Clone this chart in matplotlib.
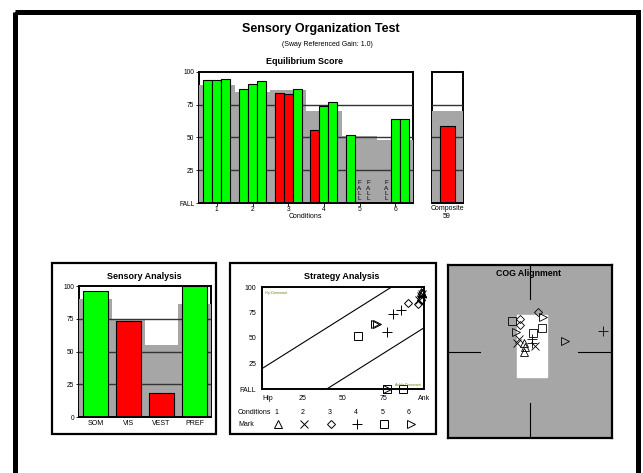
import matplotlib
matplotlib.use("Agg")
import matplotlib.pyplot as plt
from matplotlib.patches import Rectangle

plt.rcParams["font.family"] = ["Liberation Sans", "DejaVu Sans"]

W, H = 643, 473
GREEN = "#00FF00"
RED = "#FF0000"
GRAY = "#A6A6A6"
OLIVE = "#7A7A00"

# ── Equilibrium score ────────────────────────────────────────────────
conditions = [1, 2, 3, 4, 5, 6]
eq_trials = [
    [94, 94, 95],
    [87, 91, 93],
    [84, 83, 87],
    [56, 74, 77],
    [52, None, None],
    [None, 64, 64],
]
eq_normal = [90, 85, 86, 70, 51, 48]
composite = 59
composite_normal = 70

# ── Sensory analysis ─────────────────────────────────────────────────
sens_labels = ["SOM", "VIS", "VEST", "PREF"]
sens_values = [96, 73, 18, 100]
sens_normal = [90, 74, 55, 86]

# ── Strategy analysis (x = strategy score, y = equilibrium, 0 = fall) ─
strat_x = [
    [99, 99, 98],
    [97, 98, 99],
    [90, 96, 98],
    [77, 81, 86],
    [59, 77, 87],
    [77, 70, 71],
]
strat_y = [
    [94, 94, 95],
    [87, 91, 93],
    [84, 83, 87],
    [56, 74, 77],
    [52, 0, 0],
    [0, 64, 64],
]
cond_markers = ["^", "x", "D", "+", "s", ">"]
cond_msize = [6, 6, 4.5, 7, 6, 6]

# ── COG alignment ────────────────────────────────────────────────────
cog_x = [
    [-0.7, -0.7, -0.6],
    [-1.6, -1.3, 0.6],
    [1.0, -1.2, -1.2],
    [0.2, 8.9, 0.3],
    [-2.2, 1.5, 0.4],
    [1.6, -1.7, 4.3],
]
cog_y = [
    [1.0, -0.1, 0.5],
    [1.0, 1.4, 0.6],
    [4.6, 3.7, 3.1],
    [1.4, 2.4, 1.0],
    [3.5, 2.7, 2.1],
    [4.0, 2.2, 1.2],
]
cog_box = (-1.6, -2.9, 3.7, 7.1)  # x, y, width, height of the white zone

fig = plt.figure(figsize=(W / 100, H / 100), dpi=100)
fig.patch.set_facecolor("white")


def px_axes(x0, y0, x1, y1):
    return fig.add_axes([x0 / W, 1 - y1 / H, (x1 - x0) / W, (y1 - y0) / H])


def score_color(v, n):
    return RED if v < n else GREEN


# overlay in pixel coordinates for frames and free text
ov = fig.add_axes([0, 0, 1, 1])
ov.set_xlim(0, W)
ov.set_ylim(H, 0)
ov.axis("off")
ov.add_patch(Rectangle((14.5, 12.5), 623, 462, fill=False, lw=3.6, ec="black"))
for x0, y0, x1, y1 in [(52, 263, 216, 434), (230, 263, 436, 434)]:
    ov.add_patch(Rectangle((x0, y0), x1 - x0, y1 - y0, fill=False, lw=1.6, ec="black"))

ov.text(321, 29, "Sensory Organization Test", ha="center", va="center",
        fontsize=9, fontweight="bold")
ov.text(327, 44, "(Sway Referenced Gain: 1.0)", ha="center", va="center", fontsize=5)
ov.text(305, 62, "Equilibrium Score", ha="center", va="center",
        fontsize=6.5, fontweight="bold")
ov.text(305, 216, "Conditions", ha="center", va="center", fontsize=5)
ov.text(447, 208, "Composite", ha="center", va="center", fontsize=5)
ov.text(447, 216, str(composite), ha="center", va="center", fontsize=5)
ov.text(144, 276, "Sensory Analysis", ha="center", va="center",
        fontsize=6.5, fontweight="bold")
ov.text(342, 276, "Strategy Analysis", ha="center", va="center",
        fontsize=6.5, fontweight="bold")


def style_axes(ax):
    for s in ax.spines.values():
        s.set_linewidth(1.4)
        s.set_zorder(0)
    ax.tick_params(length=2, width=0.6, labelsize=4.8, pad=1.2)


# ── Equilibrium chart ────────────────────────────────────────────────
ax = px_axes(199, 72, 413, 203)
ax.bar(conditions, eq_normal, width=1.0, color=GRAY, zorder=1)
for lvl in (25, 50, 75):
    ax.axhline(lvl, color="#333333", lw=1.0, zorder=2)
ax.axhline(0, color="black", lw=1.4, zorder=5)
for c, trials, n in zip(conditions, eq_trials, eq_normal):
    for t, v in enumerate(trials):
        xp = c + (t - 1) * 0.25
        if v is None:
            ax.text(xp, 1.5, "F\nA\nL\nL", ha="center", va="bottom",
                    fontsize=4.6, linespacing=1.05, zorder=4)
        else:
            ax.bar(xp, v, width=0.25, color=score_color(v, n),
                   edgecolor="black", lw=0.8, zorder=3)
ax.set_xlim(0.5, 6.5)
ax.set_ylim(0, 100)
ax.set_xticks(conditions)
ax.set_yticks([0, 25, 50, 75, 100], ["FALL", "25", "50", "75", "100"])
style_axes(ax)
ax.tick_params(axis="x", pad=0.5)

# composite
axc = px_axes(432, 72, 463, 203)
axc.bar(0.5, composite_normal, width=1.0, color=GRAY, zorder=1)
for lvl in (25, 50, 75):
    axc.axhline(lvl, color="#333333", lw=1.0, zorder=2)
axc.axhline(0, color="black", lw=1.4, zorder=5)
axc.bar(0.5, composite, width=0.48, color=score_color(composite, composite_normal),
        edgecolor="black", lw=0.8, zorder=3)
axc.set_xlim(0, 1)
axc.set_ylim(0, 100)
axc.set_xticks([])
axc.set_yticks([])
style_axes(axc)

# ── Sensory analysis ─────────────────────────────────────────────────
axs = px_axes(79, 286, 211, 417)
pos = list(range(1, len(sens_labels) + 1))
axs.bar(pos, sens_normal, width=1.0, color=GRAY, zorder=1)
for lvl in (25, 50, 75):
    axs.axhline(lvl, color="#333333", lw=1.0, zorder=2)
axs.axhline(0, color="black", lw=1.4, zorder=5)
axs.bar(pos, sens_values, width=0.75,
        color=[score_color(v, n) for v, n in zip(sens_values, sens_normal)],
        edgecolor="black", lw=0.8, zorder=3)
axs.set_xlim(0.5, 4.5)
axs.set_ylim(0, 100)
axs.set_xticks(pos, sens_labels)
axs.set_yticks([0, 25, 50, 75, 100])
style_axes(axs)
axs.tick_params(axis="x", labelsize=5, length=0, pad=2)

# ── Strategy analysis ────────────────────────────────────────────────
axt = px_axes(262, 287, 424, 389)
axt.plot([0, 100], [20, 120], color="black", lw=0.8)
axt.plot([0, 100], [-40, 60], color="black", lw=0.8)
for xs, ys, m, ms in zip(strat_x, strat_y, cond_markers, cond_msize):
    axt.plot(xs, ys, ls="none", marker=m, ms=ms, mfc="none", mec="black",
             mew=0.7, clip_on=False)
axt.text(2, 96, "Hip Dominant", fontsize=2.6, color=OLIVE, va="top")
axt.text(98, 2, "Ankle Dominant", fontsize=2.6, color=OLIVE, ha="right", va="bottom")
axt.set_xlim(0, 100)
axt.set_ylim(0, 100)
axt.set_xticks([0, 25, 50, 75, 100], ["Hip", "25", "50", "75", "Ank"])
axt.set_yticks([0, 25, 50, 75, 100], ["FALL", "25", "50", "75", "100"])
for s in axt.spines.values():
    s.set_linewidth(1.4)
axt.tick_params(length=0, labelsize=5, pad=4)
axt.get_xticklabels()[0].set_horizontalalignment("left")

# strategy legend
ov.text(238, 412, "Conditions", ha="left", va="center", fontsize=5)
ov.text(238, 424, "Mark", ha="left", va="center", fontsize=5)
for i, (m, ms) in enumerate(zip(cond_markers, cond_msize)):
    lx = 276 + i * 26.6
    ov.text(lx, 412, str(conditions[i]), ha="center", va="center", fontsize=5)
    ov.plot(lx + 1.5, 424, marker=m, ms=ms, mfc="none", mec="black", mew=0.7)

# ── COG alignment ────────────────────────────────────────────────────
axg = px_axes(448, 265, 612, 438)
axg.set_facecolor(GRAY)
axg.add_patch(Rectangle(cog_box[:2], cog_box[2], cog_box[3], color="white", zorder=1))
for xs, ys in [([0, 0], [6.1, 10]), ([0, 0], [-6.0, -10]),
               ([-10, -6.1], [0, 0]), ([5.9, 10], [0, 0])]:
    axg.plot(xs, ys, color="black", lw=0.8, zorder=2)
for xs, ys, m, ms in zip(cog_x, cog_y, cond_markers, cond_msize):
    axg.plot(xs, ys, ls="none", marker=m, ms=ms, mfc="none", mec="black",
             mew=0.6, zorder=3)
axg.text(-0.2, 9.0, "COG Alignment", ha="center", va="center",
         fontsize=6.3, fontweight="bold")
axg.set_xlim(-10, 10)
axg.set_ylim(-10, 10)
axg.set_xticks([])
axg.set_yticks([])
for s in axg.spines.values():
    s.set_linewidth(1.6)

fig.savefig("out.png", dpi=100)
